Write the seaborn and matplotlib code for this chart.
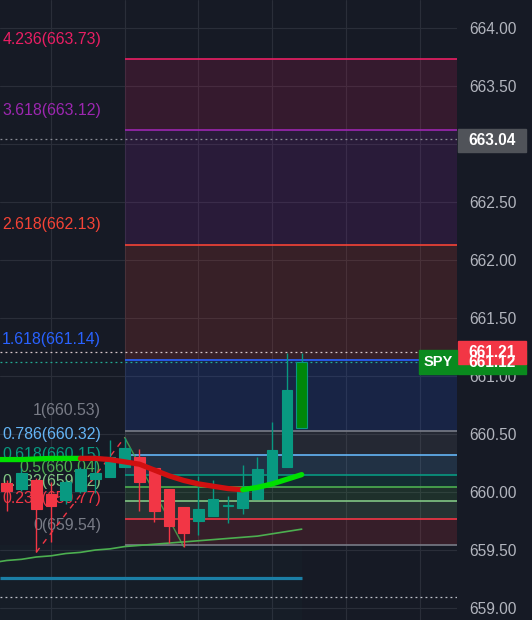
import matplotlib
matplotlib.use("Agg")
import pandas as pd
import seaborn as sns
from matplotlib import pyplot as plt
from matplotlib.patches import Rectangle
from matplotlib.transforms import blended_transform_factory

BG = "#161a25"
GRID = "#2a2e39"
UP = "#089981"
DOWN = "#f23645"

# candles, one per bar index 0..20
candle_open = [660.08, 660.03, 660.10, 659.98, 659.93, 660.01, 660.11, 660.13, 660.22, 660.30, 660.21,
               660.03, 659.87, 659.75, 659.79, 659.88, 659.86, 659.94, 660.08, 660.22, 660.55]
candle_high = [660.10, 660.21, 660.12, 660.09, 660.10, 660.22, 660.32, 660.45, 660.47, 660.37, 660.21,
               660.03, 659.87, 660.14, 660.10, 659.97, 660.23, 660.30, 660.60, 661.20, 661.20]
candle_low = [659.84, 660.01, 659.48, 659.57, 659.90, 659.99, 659.99, 660.13, 660.22, 659.84, 659.74,
              659.56, 659.53, 659.63, 659.79, 659.73, 659.81, 659.94, 660.08, 660.22, 660.55]
candle_close = [660.01, 660.16, 659.85, 659.88, 660.09, 660.20, 660.16, 660.30, 660.38, 660.09, 659.84,
                659.71, 659.65, 659.85, 659.94, 659.89, 660.03, 660.20, 660.36, 660.88, 661.12]

# moving averages, bar index -1..20
ma_index = list(range(-1, 21))
ema_values = [660.28, 660.28, 660.28, 660.285, 660.29, 660.29, 660.29, 660.29, 660.28, 660.26, 660.24,
              660.19, 660.14, 660.10, 660.07, 660.05, 660.03, 660.02, 660.04, 660.07, 660.11, 660.15]
sma_values = [659.39, 659.41, 659.42, 659.44, 659.45, 659.47, 659.48, 659.50, 659.51, 659.53, 659.54,
              659.55, 659.56, 659.57, 659.58, 659.59, 659.60, 659.61, 659.62, 659.64, 659.66, 659.68]

# trend based fib extension
fib_ratios = ["4.236", "3.618", "2.618", "1.618", "1", "0.786", "0.618", "0.5", "0.382", "0.236", "0"]
fib_prices = [663.73, 663.12, 662.13, 661.14, 660.53, 660.32, 660.15, 660.04, 659.92, 659.77, 659.54]
fib_colors = ["#e91e63", "#9c27b0", "#f44336", "#2962ff", "#787b86", "#64b5f6", "#089981",
              "#4caf50", "#81c784", "#f23645", "#787b86"]
fib_points_x = [2, 8, 12]
fib_points_y = [659.48, 660.47, 659.53]

support_level = 659.26
marker_levels = [663.04, 659.095]
price_ticks = [659.0, 659.5, 660.0, 660.5, 661.0, 661.5, 662.0, 662.5, 663.0, 663.5, 664.0]


def draw_candles(ax):
    for i in range(len(candle_open)):
        o, h, l, c = candle_open[i], candle_high[i], candle_low[i], candle_close[i]
        col = UP if c >= o else DOWN
        face, edge = col, col
        if i == len(candle_open) - 1:
            face, edge = "#00870a", UP
        ax.vlines(i, l, h, color=col, lw=1, zorder=6)
        height = max(abs(c - o), 0.008)
        ax.bar(i, height, bottom=min(o, c), width=0.72, color=face, edgecolor=edge, lw=0.8, zorder=7)


def draw_fib(ax, x_right):
    for k in range(len(fib_prices)):
        p, col = fib_prices[k], fib_colors[k]
        if k + 1 < len(fib_prices):
            ax.fill_between([8, x_right], fib_prices[k + 1], p, color=col, alpha=0.15, lw=0, zorder=1)
        ax.hlines(p, 8, x_right, color=col, lw=1.2, zorder=2)
        ax.annotate(f"{fib_ratios[k]}({p:.2f})", xy=(8, p), xytext=(-17, 14.4), textcoords="offset points",
                    ha="right", va="center", color=col, fontsize=11.4, zorder=3)
    ax.plot(fib_points_x[:2], fib_points_y[:2], color=DOWN, lw=1, ls=(0, (4, 4)), zorder=4)
    ax.plot(fib_points_x[1:], fib_points_y[1:], color="#4caf50", lw=1, alpha=0.8, zorder=4)


def price_box(ax, trans, x0, w, price, text, color, fontsize=11.2):
    h = 0.2
    ax.add_patch(Rectangle((x0, price - h / 2), w, h, transform=trans, color=color,
                           clip_on=False, zorder=20))
    ax.text(x0 + w / 2, price, text, transform=trans, ha="center", va="center", color="white",
            fontsize=fontsize, fontweight="bold", clip_on=False, zorder=21)


def main():
    sns.set_theme(style="dark", rc={"axes.facecolor": BG, "figure.facecolor": BG})
    plt.rcParams["font.family"] = ["Liberation Sans", "DejaVu Sans"]

    fig = plt.figure(figsize=(5.32, 6.2), dpi=100)
    ax = fig.add_axes([0, 0, 457 / 532, 1])
    x_left, x_right = -0.454, 30.53
    ax.set_xlim(x_left, x_right)
    ax.set_ylim(658.897, 664.241)

    for s in ax.spines.values():
        s.set_visible(False)
    ax.set_xticks([])
    ax.yaxis.tick_right()
    ax.set_yticks(price_ticks)
    ax.set_yticklabels([f"{t:.2f}" for t in price_ticks])
    ax.tick_params(axis="y", length=0, pad=8.6, labelsize=11.2, labelcolor="#b2b5be")
    for t in price_ticks:
        ax.axhline(t, color=GRID, lw=0.8, zorder=0)
    for v in [3, 8, 13, 18, 23, 28]:
        ax.axvline(v, color=GRID, lw=0.8, zorder=0)

    # faint shade behind the bars at the bottom
    ax.fill_between([x_left, 20], 658.897, fib_prices[-1], color="#26a69a", alpha=0.025, lw=0, zorder=0)

    draw_fib(ax, x_right)

    ax.hlines(support_level, x_left, 20, color="#1b7fa6", lw=2.3, zorder=5)
    ax.hlines(marker_levels[0], x_left, x_right, color="#8a8d96", lw=0.9, ls=(0, (1.5, 2.5)), zorder=5)
    ax.hlines(marker_levels[1], x_left, x_right, color="#c0c3cc", lw=0.9, ls=(0, (1.5, 2.5)), zorder=5)
    ax.hlines(661.21, x_left, x_right, color="#d8c8cc", lw=0.9, ls=(0, (1.5, 2.5)), zorder=5)
    ax.hlines(661.12, x_left, x_right, color="#22ab94", lw=0.9, ls=(0, (1.5, 2.5)), zorder=5)

    sma_df = pd.DataFrame({"bar": ma_index, "sma": sma_values})
    sns.lineplot(data=sma_df, x="bar", y="sma", color="#4caf50", lw=1.2, ax=ax, zorder=5)

    seg = ["a" if b <= 5 else ("b" if b <= 16 else "c") for b in ma_index]
    ema_df = pd.DataFrame({"bar": ma_index, "ema": ema_values, "seg": seg})
    extra = ema_df[ema_df["bar"].isin([5, 16])].copy()
    extra["seg"] = ["b", "c"]
    ema_df = pd.concat([ema_df, extra]).sort_values(["seg", "bar"])
    sns.lineplot(data=ema_df, x="bar", y="ema", hue="seg", palette={"a": "#00e000", "b": "#d01010", "c": "#00e000"},
                 lw=3.8, legend=False, ax=ax, zorder=8, solid_capstyle="round")

    draw_candles(ax)
    ax.set_xlabel("")
    ax.set_ylabel("")

    trans = blended_transform_factory(ax.transAxes, ax.transData)
    price_box(ax, trans, 1.002, 0.149, 663.03, "663.04", "#505359")
    price_box(ax, trans, 1.002, 0.149, 661.12, "661.12", "#0a8a1e")
    price_box(ax, trans, 1.002, 0.149, 661.20, "661.21", "#f23645")
    price_box(ax, trans, 0.917, 0.083, 661.12, "SPY", "#0a8a1e", fontsize=10.5)

    plt.savefig("out.png", dpi=100, facecolor=BG)


if __name__ == "__main__":
    main()
